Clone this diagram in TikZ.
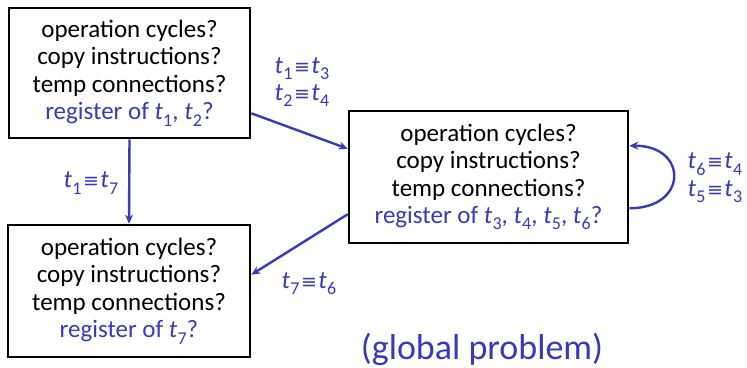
\documentclass[tikz,border=0pt]{standalone}
\usepackage{fontspec}
\setmainfont{Carlito}
\newfontfamily\symfont{DejaVu Sans}
\usetikzlibrary{arrows.meta}
\definecolor{regblue}{RGB}{58,58,184}
% temporary t_i with an upright subscript
\newcommand\tv[1]{\textit{t}\kern0.3pt\raisebox{-0.25em}{\fontsize{18}{18}\selectfont #1}}
\newcommand\eqv{\kern1.5pt{\symfont\fontsize{19}{19}\selectfont ≡}\kern1.5pt}
\tikzset{
  qbox/.style={draw=black, line width=2.6pt, align=center, inner sep=0pt,
    font=\fontsize{25}{27.5}\selectfont},
  rel/.style={text=regblue, align=left, font=\fontsize{25}{27.5}\selectfont},
  link/.style={draw=regblue, line width=2.4pt, -{Stealth[length=9pt,width=8pt]}},
}
\begin{document}
\begin{tikzpicture}[x=1pt, y=-1pt]
\useasboundingbox (0,0) rectangle (747,367);
\fill[white] (0,0) rectangle (747,367);

\node[qbox, minimum width=241pt, minimum height=130pt] (A) at (129.5,73)
  {operation cycles?\\copy instructions?\\temp connections?\\
   \textcolor{regblue}{register of \tv{1}, \tv{2}?}};
\node[qbox, minimum width=279pt, minimum height=132pt] (B) at (488.5,177)
  {operation cycles?\\copy instructions?\\temp connections?\\
   \textcolor{regblue}{register of \tv{3}, \tv{4}, \tv{5}, \tv{6}?}};
\node[qbox, minimum width=242pt, minimum height=132pt] (C) at (129,291)
  {operation cycles?\\copy instructions?\\temp connections?\\
   \textcolor{regblue}{register of \tv{7}?}};

\draw[link] (A.south) -- (C.north);
\draw[link] ([yshift=26pt]A.south east) -- ([yshift=-39pt]B.north west);
\draw[link] ([yshift=30pt]B.south west) -- ([yshift=-51pt]C.north east);
\draw[link] ([yshift=36pt]B.south east) .. controls +(59,0) and +(59,0) .. ([yshift=-36pt]B.north east);

\node[rel] (l13) at (302,82) {\tv{1}\eqv\tv{3}\\\tv{2}\eqv\tv{4}};
\node[rel] (l17) at (91,183) {\tv{1}\eqv\tv{7}};
\node[rel] (l76) at (309,284) {\tv{7}\eqv\tv{6}};
\node[rel] (l64) at (715,178) {\tv{6}\eqv\tv{4}\\\tv{5}\eqv\tv{3}};

\node[text=regblue, font=\fontsize{36}{40}\selectfont] (title) at (482,349) {(global problem)};
\end{tikzpicture}
\end{document}
